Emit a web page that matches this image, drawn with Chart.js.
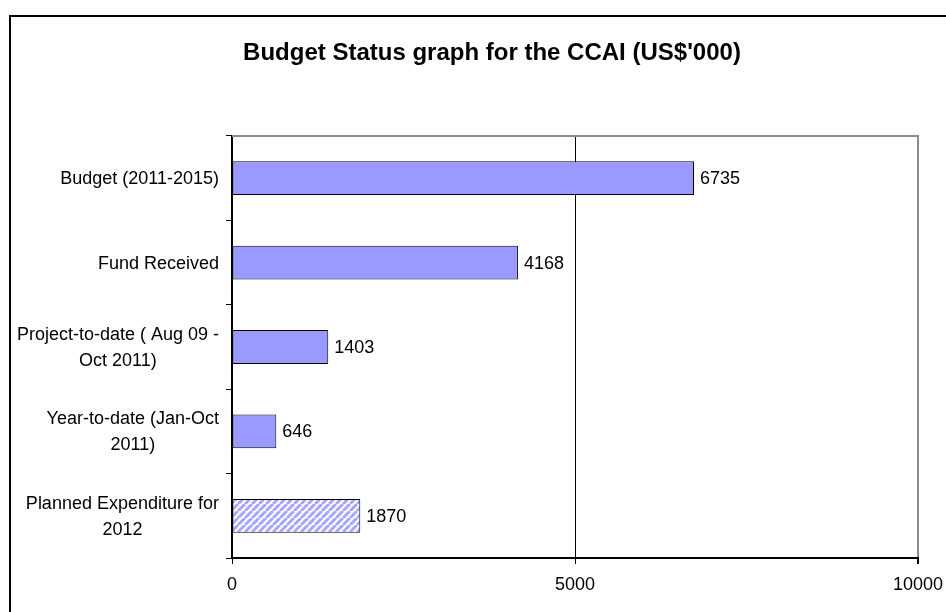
<!DOCTYPE html>
<html>
<head>
<meta charset="utf-8">
<script src="https://cdn.jsdelivr.net/npm/chart.js@4/dist/chart.umd.min.js"></script>
<style>
  html, body { margin: 0; padding: 0; background: #fff; }
  #wrap { width: 946px; height: 612px; position: relative; }
</style>
</head>
<body>
<div id="wrap"><canvas id="c" width="946" height="612"></canvas></div>
<script>
// ---- data ----
const chartTitle = "Budget Status graph for the CCAI (US$'000)";
const categories = [
  ["Budget (2011-2015)"],
  ["Fund Received"],
  ["Project-to-date ( Aug 09 -", "Oct 2011)"],
  ["Year-to-date (Jan-Oct", "2011)"],
  ["Planned Expenditure for", "2012"]
];
const values = [6735, 4168, 1403, 646, 1870];
const hatched = [false, false, false, false, true];
const xMin = 0, xMax = 10000, xStep = 5000;

// ---- styles ----
const FONT = "'Liberation Sans', Arial, sans-serif";
const BAR = '#9999FF';

function makeHatch() {
  const s = 7;
  const p = document.createElement('canvas');
  p.width = s; p.height = s;
  const g = p.getContext('2d');
  g.fillStyle = '#ffffff';
  g.fillRect(0, 0, s, s);
  g.strokeStyle = '#a6a6ff';
  g.lineWidth = 3;
  g.beginPath();
  for (let k = -1; k <= 1; k++) {
    g.moveTo(k * s, s);
    g.lineTo(k * s + s, 0);
  }
  g.stroke();
  return document.getElementById('c').getContext('2d').createPattern(p, 'repeat');
}
const hatch = makeHatch();

Chart.defaults.font.family = FONT;
Chart.defaults.font.size = 18;
Chart.defaults.color = '#000';

const framePlugin = {
  id: 'frame',
  beforeDraw(chart) {
    const c = chart.ctx;
    c.save();
    c.fillStyle = '#fff';
    c.fillRect(0, 0, chart.width, chart.height);
    c.strokeStyle = '#000';
    c.lineWidth = 2;
    c.strokeRect(10, 16, chart.width + 20, chart.height + 20);
    c.restore();
  },
  afterDraw(chart) {
    const c = chart.ctx;
    const a = chart.chartArea;
    c.save();
    // title
    c.font = 'bold 24px ' + FONT;
    c.fillStyle = '#000';
    c.textAlign = 'center';
    c.textBaseline = 'middle';
    c.fillText(chartTitle, 492, 53);
    // plot top border
    c.strokeStyle = '#8c8c8c';
    c.lineWidth = 2;
    c.beginPath();
    c.moveTo(a.left, a.top);
    c.lineTo(a.right + 1, a.top);
    c.stroke();
    // category labels
    const ys = chart.scales.y;
    c.font = '18px ' + FONT;
    c.fillStyle = '#000';
    c.textAlign = 'center';
    c.textBaseline = 'middle';
    const rightEdge = a.left - 13;
    categories.forEach((lines, i) => {
      const cy = ys.getPixelForValue(i);
      const w = Math.max(...lines.map(l => c.measureText(l).width));
      const cx = rightEdge - w / 2;
      lines.forEach((l, j) => {
        c.fillText(l, cx, cy + (j - (lines.length - 1) / 2) * 26 + 1);
      });
    });
    // value labels
    const meta = chart.getDatasetMeta(0);
    c.textAlign = 'left';
    meta.data.forEach((bar, i) => {
      c.fillText(String(values[i]), bar.x + 6, bar.y + 1);
    });
    c.restore();
  }
};

new Chart(document.getElementById('c'), {
  type: 'bar',
  data: {
    labels: categories,
    datasets: [{
      data: values,
      backgroundColor: hatched.map(h => h ? hatch : BAR),
      borderColor: '#000',
      borderWidth: 1,
      borderSkipped: false,
      categoryPercentage: 1,
      barPercentage: 0.4
    }]
  },
  options: {
    indexAxis: 'y',
    responsive: false,
    animation: false,
    layout: { padding: { top: 136, right: 28, bottom: 0, left: 0 } },
    plugins: { legend: { display: false }, tooltip: { enabled: false }, title: { display: false } },
    scales: {
      x: {
        min: xMin, max: xMax,
        ticks: { stepSize: xStep, padding: 10, maxRotation: 0, font: { size: 18 },
                 callback: v => String(v) },
        grid: {
          color: ctx => (ctx.tick && ctx.tick.value === xMax) ? '#8c8c8c' : '#000',
          lineWidth: ctx => (ctx.tick && ctx.tick.value === xMax) ? 2 : 1,
          tickLength: 6,
          tickColor: '#000'
        },
        border: { color: '#000', width: 2 },
        afterFit: s => { s.height = 54; s.paddingRight = 0; s.paddingLeft = 0; }
      },
      y: {
        ticks: { display: false },
        grid: { drawOnChartArea: false, drawTicks: true, tickLength: 6, color: '#000', offset: true },
        border: { color: '#000', width: 2 },
        afterFit: s => { s.width = 232; }
      }
    }
  },
  plugins: [framePlugin]
});
</script>
</body>
</html>
